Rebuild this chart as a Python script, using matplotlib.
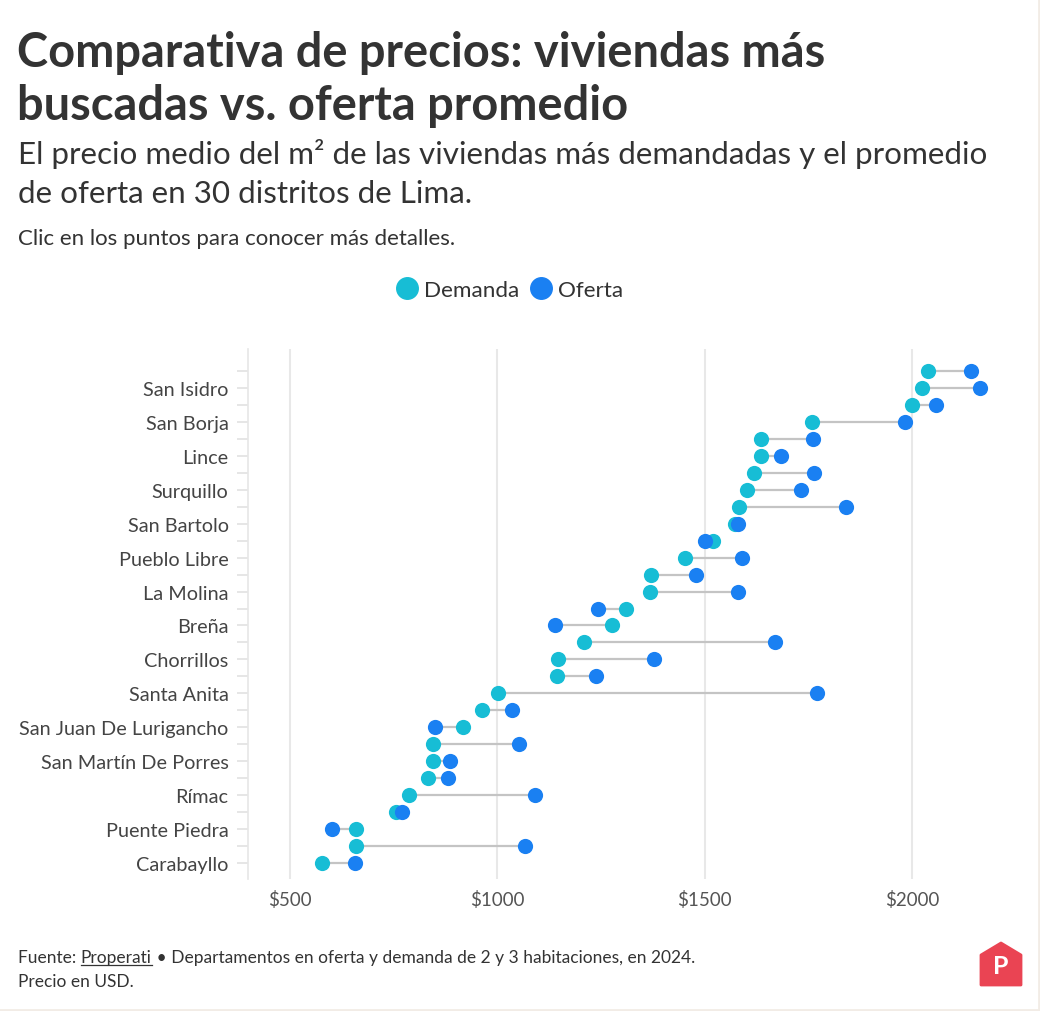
import matplotlib
matplotlib.use("Agg")
import matplotlib.pyplot as plt
from matplotlib.lines import Line2D
from matplotlib.patches import Polygon
import numpy as np

plt.rcParams['font.family'] = ['Lato', 'DejaVu Sans']

districts = [
    "Miraflores", "San Isidro", "Barranco", "San Borja", "Santiago De Surco",
    "Lince", "Jesús María", "Surquillo", "Magdalena Del Mar", "San Bartolo",
    "San Miguel", "Pueblo Libre", "Cercado De Lima", "La Molina", "Ate",
    "Breña", "Punta Hermosa", "Chorrillos", "La Victoria", "Santa Anita",
    "Los Olivos", "San Juan De Lurigancho", "Lurín", "San Martín De Porres", "Independencia",
    "Rímac", "Comas", "Puente Piedra", "Villa El Salvador", "Carabayllo",
]
demanda = [2038, 2024, 1999, 1760, 1637, 1635, 1618, 1602, 1583, 1573,
           1520, 1452, 1371, 1367, 1311, 1276, 1208, 1147, 1144, 1002,
           963, 918, 845, 845, 832, 788, 755, 659, 659, 578]
oferta = [2142, 2165, 2059, 1983, 1761, 1685, 1763, 1733, 1841, 1580,
          1501, 1590, 1478, 1580, 1243, 1138, 1669, 1377, 1239, 1770,
          1035, 849, 1052, 886, 882, 1090, 769, 602, 1066, 656]
xticks = [500, 1000, 1500, 2000]
xtick_labels = ["$500", "$1000", "$1500", "$2000"]

C_DEM = "#17BDD5"
C_OFE = "#1A80F2"
TXT = "#333333"

W, H = 1040, 1012
fig = plt.figure(figsize=(W/100, H/100), dpi=100)
fig.patch.set_facecolor("white")

def fx(x): return x / W
def fy(y): return 1 - y / H

ax_left, ax_right, ax_top, ax_bot = 248, 1020, 350, 880
ax = fig.add_axes([fx(ax_left), fy(ax_bot), (ax_right-ax_left)/W, (ax_bot-ax_top)/H])

n = len(districts)
ypos = np.arange(n)
for i in range(n):
    ax.plot([demanda[i], oferta[i]], [ypos[i], ypos[i]], color="#C4C4C4", lw=1.6, zorder=2, solid_capstyle='butt')
ax.scatter(demanda, ypos, s=120, color=C_DEM, zorder=3, linewidths=0)
ax.scatter(oferta, ypos, s=120, color=C_OFE, zorder=4, linewidths=0)

px_per_row = (864 - 372) / (n - 1)
ax.set_ylim(29 + (ax_bot - 864) / px_per_row, -(372 - ax_top) / px_per_row)
px_per_usd = (912 - 290) / 1500
ax.set_xlim(500 - (290 - ax_left) / px_per_usd, 500 + (ax_right - 290) / px_per_usd)

ax.set_yticks(ypos)
ax.set_yticklabels([d if i % 2 == 1 else "" for i, d in enumerate(districts)])
ax.tick_params(axis='y', length=8, width=1.2, color="#E2E2E2", pad=6, labelsize=14.3, labelcolor="#444444")
ax.set_xticks(xticks)
ax.set_xticklabels(xtick_labels)
ax.tick_params(axis='x', length=0, pad=8, labelsize=13.5, labelcolor="#555555")
ax.grid(axis='x', color="#E8E8E8", lw=1.5, zorder=0)
ax.set_axisbelow(True)
for s in ["top", "right", "bottom"]:
    ax.spines[s].set_visible(False)
ax.spines["left"].set_color("#E6E6E6")
ax.spines["left"].set_linewidth(1.2)

# Titles
fig.text(fx(17), fy(67), "Comparativa de precios: viviendas más", fontsize=33.8, fontweight='bold', color=TXT, va='baseline')
fig.text(fx(17), fy(120), "buscadas vs. oferta promedio", fontsize=33.8, fontweight='bold', color=TXT, va='baseline')
fig.text(fx(18), fy(164), "El precio medio del m² de las viviendas más demandadas y el promedio", fontsize=22.6, color=TXT, va='baseline')
fig.text(fx(18), fy(203), "de oferta en 30 distritos de Lima.", fontsize=22.6, color=TXT, va='baseline')
fig.text(fx(18), fy(245), "Clic en los puntos para conocer más detalles.", fontsize=16, color=TXT, va='baseline')

# Legend
fig.add_artist(Line2D([fx(407)], [fy(289)], marker='o', markersize=15.5, color=C_DEM, lw=0, transform=fig.transFigure))
fig.text(fx(424), fy(297), "Demanda", fontsize=16.2, color=TXT, va='baseline')
fig.add_artist(Line2D([fx(541)], [fy(289)], marker='o', markersize=15.5, color=C_OFE, lw=0, transform=fig.transFigure))
fig.text(fx(558), fy(297), "Oferta", fontsize=16.2, color=TXT, va='baseline')

# Footer
fig.canvas.draw()
r = fig.canvas.get_renderer()
FS = 12.5
t1 = fig.text(fx(18), fy(963), "Fuente: ", fontsize=FS, color=TXT, va='baseline')
bb1 = t1.get_window_extent(r)
t2 = fig.text(bb1.x1 / W, fy(963), "Properati", fontsize=FS, color=TXT, va='baseline')
bb2 = t2.get_window_extent(r)
fig.add_artist(Line2D([bb2.x0 / W, bb2.x1 / W], [fy(966), fy(966)], color=TXT, lw=0.9, transform=fig.transFigure))
fig.text(bb2.x1 / W, fy(963), " • Departamentos en oferta y demanda de 2 y 3 habitaciones, en 2024.", fontsize=FS, color=TXT, va='baseline')
fig.text(fx(18), fy(987), "Precio en USD.", fontsize=FS, color=TXT, va='baseline')

# Logo
logo = Polygon([[fx(981), fy(986)], [fx(1021), fy(986)], [fx(1021), fy(956)], [fx(1001), fy(944)], [fx(981), fy(956)]],
               closed=True, facecolor="#EA4453", edgecolor="#EA4453", lw=2, joinstyle='round', transform=fig.transFigure)
fig.add_artist(logo)
fig.text(fx(1001), fy(967), "P", fontsize=18, fontweight='bold', color="white", ha='center', va='center')

# faint frame
fig.add_artist(Line2D([0, 1], [fy(1011), fy(1011)], color="#F2ECE6", lw=2, transform=fig.transFigure))
fig.add_artist(Line2D([fx(1039), fx(1039)], [0, 1], color="#F2ECE6", lw=2, transform=fig.transFigure))

fig.savefig("out.png", dpi=100, facecolor="white")
